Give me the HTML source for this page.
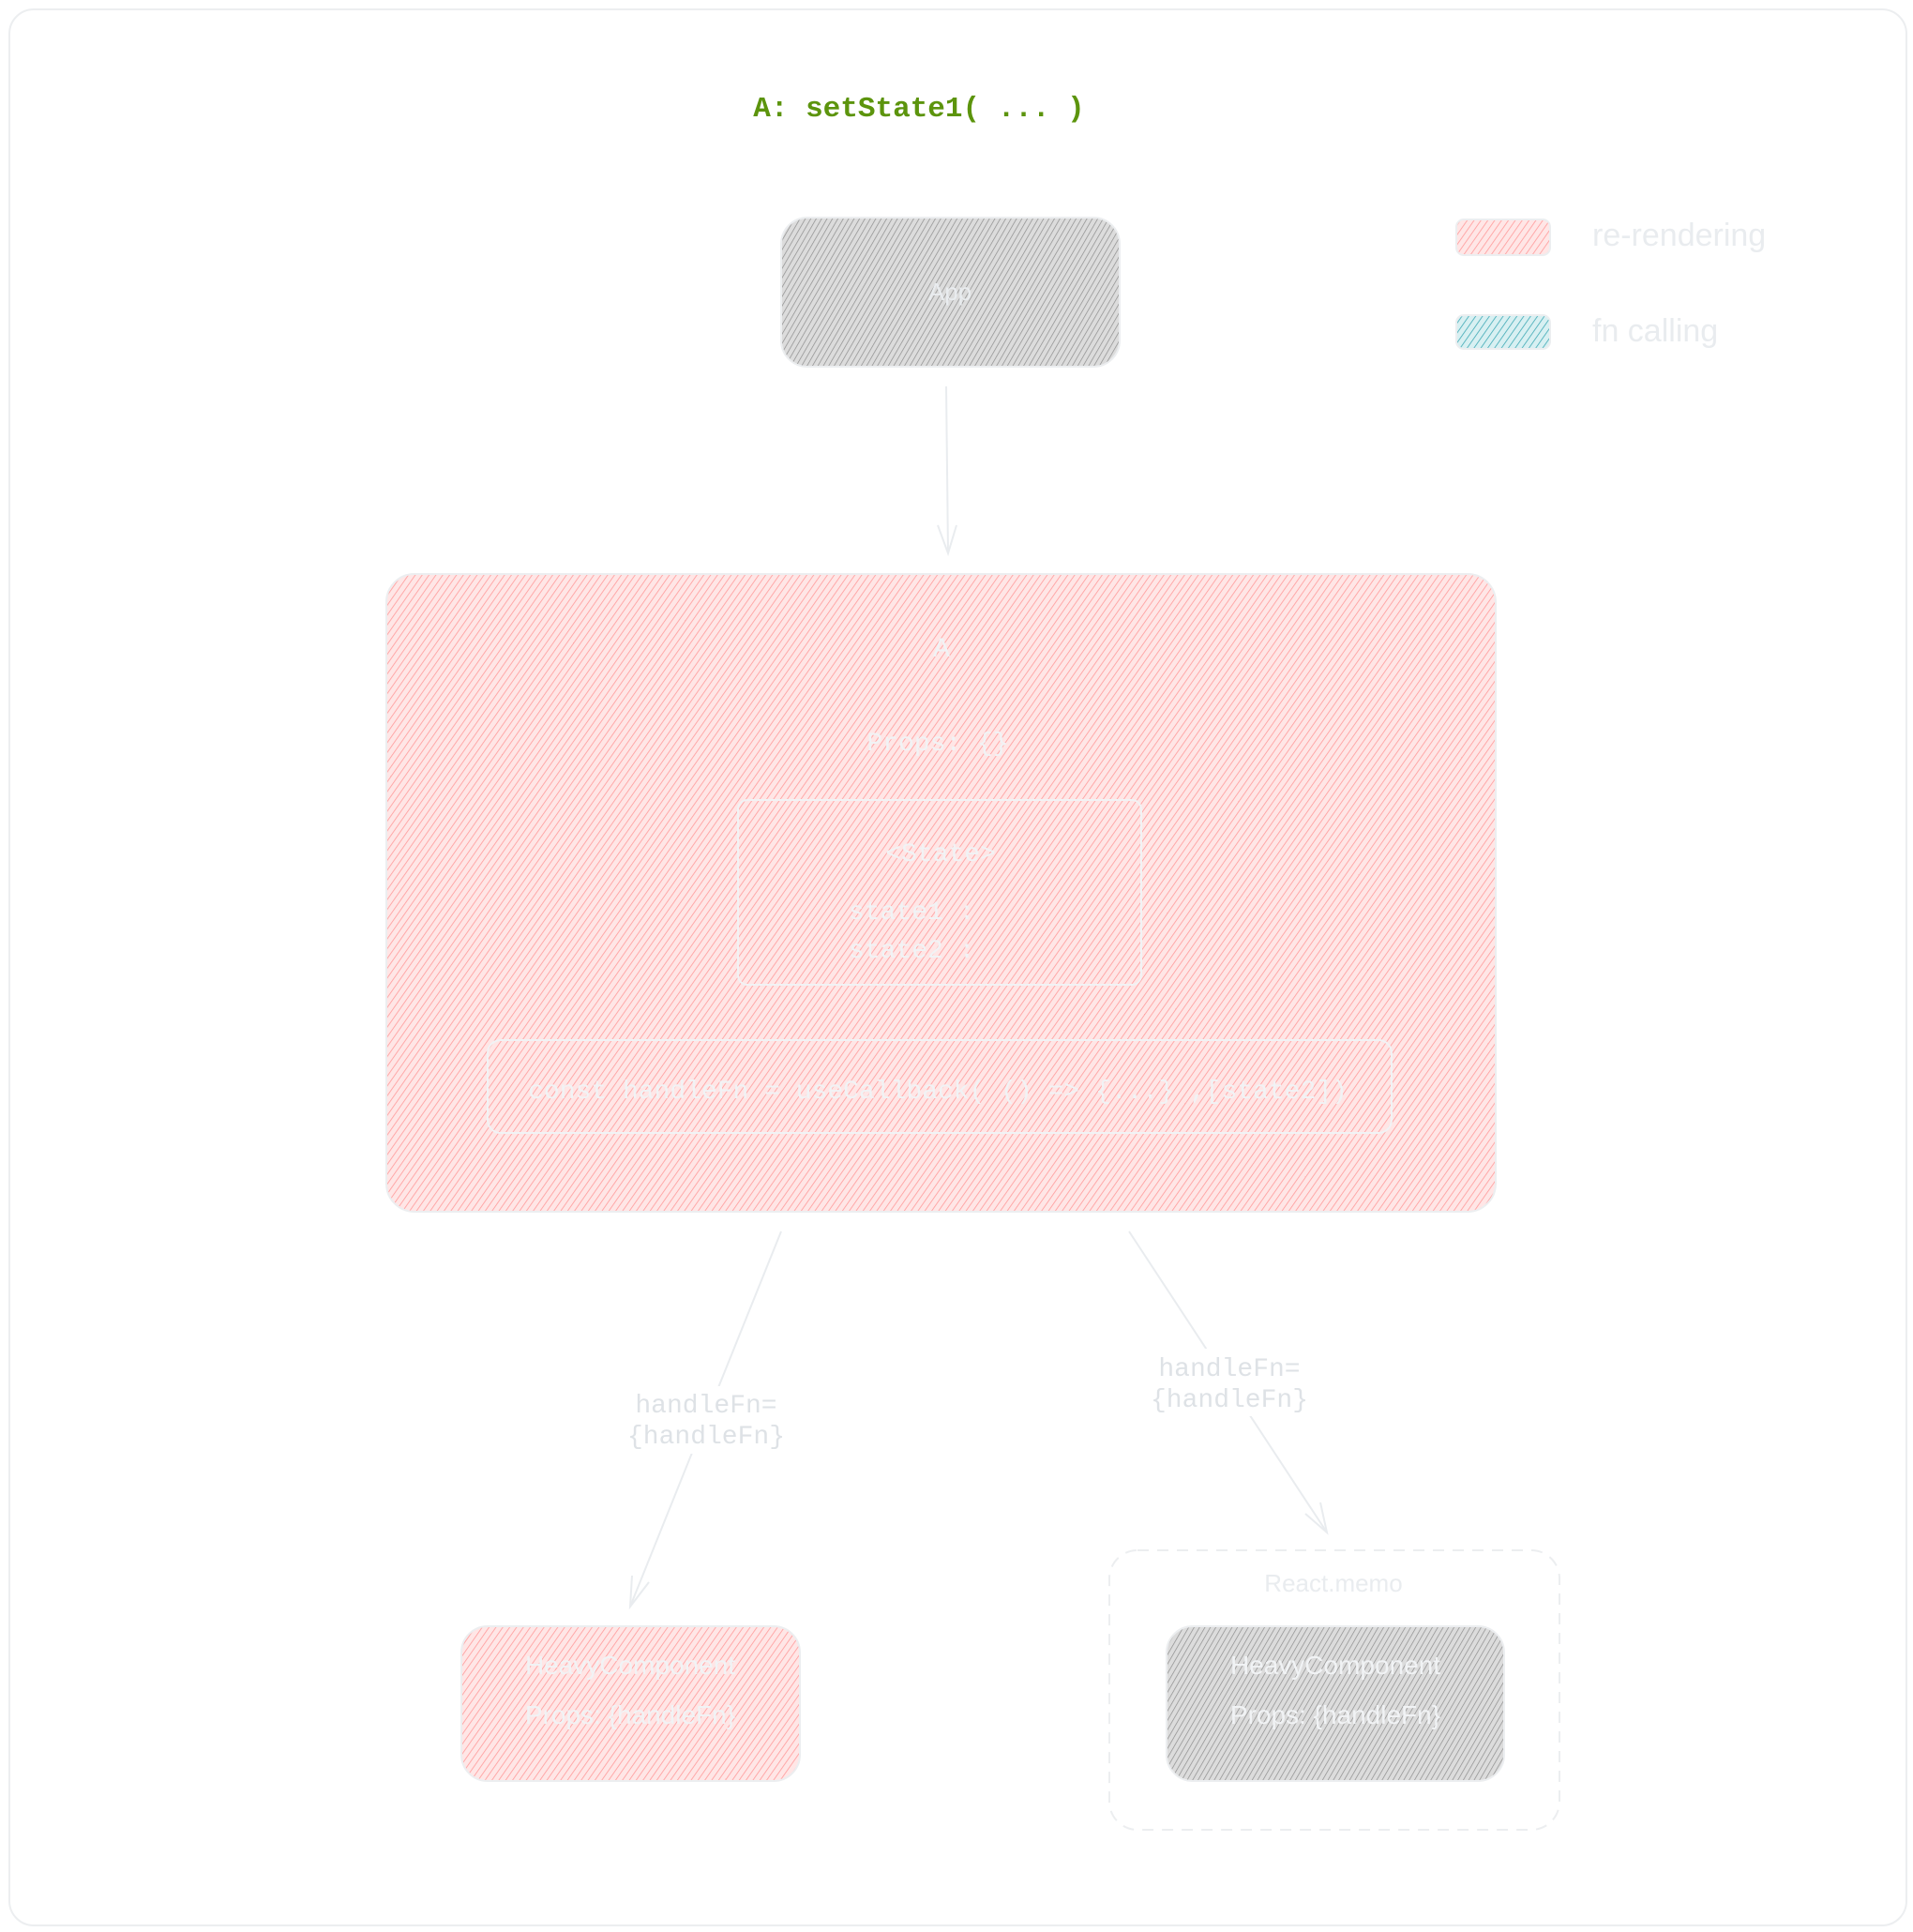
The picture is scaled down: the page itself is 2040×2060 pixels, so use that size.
<!DOCTYPE html>
<html><head><meta charset="utf-8"><style>
html,body{margin:0;padding:0;background:#fff;}
svg{display:block}
.m{font-family:"Liberation Mono",monospace;}
.s{font-family:"Liberation Sans",sans-serif;}
</style></head><body>
<svg width="2040" height="2060" viewBox="0 0 2040 2060" xmlns="http://www.w3.org/2000/svg">
<defs>
<pattern id="red" patternUnits="userSpaceOnUse" width="6" height="6" patternTransform="rotate(35)">
<rect width="6" height="6" fill="#ffe6e6"/><line x1="0" y1="0" x2="0" y2="6" stroke="#ff9a9a" stroke-width="1.6"/></pattern>
<pattern id="gray" patternUnits="userSpaceOnUse" width="5" height="5" patternTransform="rotate(30)">
<rect width="5" height="5" fill="#dcdcdc"/><line x1="0" y1="0" x2="0" y2="5" stroke="#8c8c8c" stroke-width="1.4"/></pattern>
<pattern id="teal" patternUnits="userSpaceOnUse" width="6" height="6" patternTransform="rotate(35)">
<rect width="6" height="6" fill="#d8f0f2"/><line x1="0" y1="0" x2="0" y2="6" stroke="#3fa9b5" stroke-width="1.6"/></pattern>
</defs>
<rect x="10" y="10" width="2023" height="2043" rx="26" fill="#fff" stroke="#eceef0" stroke-width="2"/>
<text x="980" y="124" text-anchor="middle" class="m" font-size="31" font-weight="bold" fill="#5c940d">A: setState1( ... )</text>

<rect x="833" y="232" width="361" height="159" rx="28" fill="url(#gray)" stroke="#eceef0" stroke-width="2"/>
<text x="1013" y="320" text-anchor="middle" class="s" font-size="26" fill="#e9ecef">App</text>

<rect x="1553" y="234" width="100" height="38" rx="8" fill="url(#red)" stroke="#eceef0" stroke-width="2"/>
<text x="1698" y="262" class="s" font-size="34" fill="#e9ecef">re-rendering</text>
<rect x="1553" y="336" width="100" height="36" rx="8" fill="url(#teal)" stroke="#eceef0" stroke-width="2"/>
<text x="1698" y="364" class="s" font-size="34" fill="#e9ecef">fn calling</text>

<g stroke="#e9ecef" stroke-width="2" fill="none">
<line x1="1009" y1="412" x2="1011" y2="590"/>
<polyline points="1000,560 1011,590 1020,560"/>
</g>

<rect x="412" y="612" width="1183" height="680" rx="30" fill="url(#red)" stroke="#eceef0" stroke-width="2"/>
<text x="1004" y="700" text-anchor="middle" class="m" font-size="30" fill="#f1f3f5">A</text>
<text x="1000" y="800" text-anchor="middle" class="m" font-size="28" fill="#f1f3f5">Props: {}</text>
<rect x="787" y="853" width="430" height="197" rx="10" fill="none" stroke="#f1f3f5" stroke-width="2"/>
<text x="1003" y="918" text-anchor="middle" class="m" font-size="28" fill="#f1f3f5">&lt;State&gt;</text>
<text x="905" y="980" class="m" font-size="28" fill="#f1f3f5">state1 : </text>
<text x="905" y="1021" class="m" font-size="28" fill="#f1f3f5">state2 : </text>
<rect x="520" y="1109" width="964" height="99" rx="14" fill="none" stroke="#f1f3f5" stroke-width="2"/>
<text x="1000" y="1171" text-anchor="middle" class="m" font-size="28" fill="#f1f3f5">const handleFn = useCallback( () =&gt; {...} ,[state2])</text>

<g stroke="#e9ecef" stroke-width="2" fill="none">
<line x1="833" y1="1313" x2="672" y2="1713"/>
<polyline points="674,1680 672,1713 692,1687"/>
<line x1="1204" y1="1313" x2="1415" y2="1634"/>
<polyline points="1392,1614 1415,1634 1408,1602"/>
</g>
<rect x="670" y="1478" width="170" height="72" fill="#fff"/>
<text x="753" y="1506" text-anchor="middle" class="m" font-size="28" fill="#dee2e6">handleFn=</text>
<text x="753" y="1539" text-anchor="middle" class="m" font-size="28" fill="#dee2e6">{handleFn}</text>
<rect x="1228" y="1438" width="170" height="72" fill="#fff"/>
<text x="1311" y="1467" text-anchor="middle" class="m" font-size="28" fill="#dee2e6">handleFn=</text>
<text x="1311" y="1500" text-anchor="middle" class="m" font-size="28" fill="#dee2e6">{handleFn}</text>

<rect x="492" y="1734" width="361" height="165" rx="28" fill="url(#red)" stroke="#eceef0" stroke-width="2"/>
<text x="672" y="1785" text-anchor="middle" class="s" font-size="28" fill="#f1f3f5">HeavyComponent</text>
<text x="672" y="1838" text-anchor="middle" class="s" font-size="28" fill="#f1f3f5">Props: {handleFn}</text>

<rect x="1183" y="1653" width="480" height="298" rx="30" fill="none" stroke="#eceef0" stroke-width="2" stroke-dasharray="12 9"/>
<text x="1422" y="1697" text-anchor="middle" class="s" font-size="26" fill="#e9ecef">React.memo</text>
<rect x="1244" y="1734" width="360" height="165" rx="28" fill="url(#gray)" stroke="#eceef0" stroke-width="2"/>
<text x="1424" y="1785" text-anchor="middle" class="s" font-size="28" fill="#f1f3f5">HeavyComponent</text>
<text x="1424" y="1838" text-anchor="middle" class="s" font-size="28" fill="#f1f3f5">Props: {handleFn}</text>
</svg>
</body></html>
